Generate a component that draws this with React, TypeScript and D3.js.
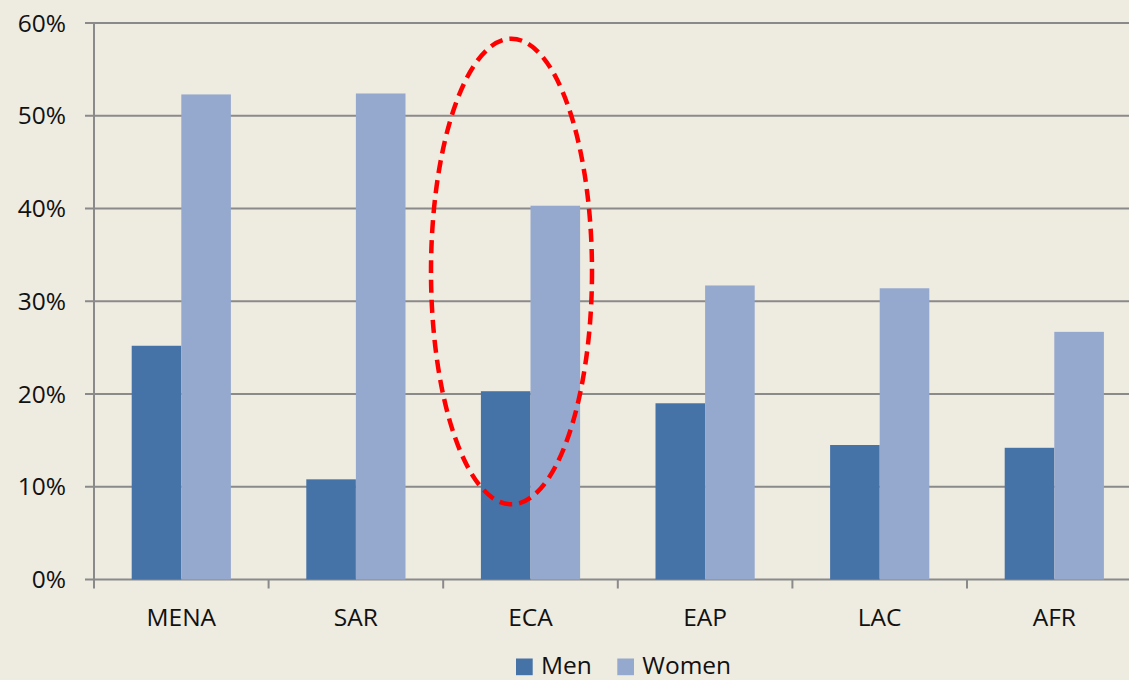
import React from "react";
import * as d3 from "d3";

const categories = ["MENA", "SAR", "ECA", "EAP", "LAC", "AFR"];
const menValues = [25.2, 10.8, 20.3, 19.0, 14.5, 14.2];
const womenValues = [52.3, 52.4, 40.3, 31.7, 31.4, 26.7];
const yTicks = [0, 10, 20, 30, 40, 50, 60];
const seriesNames = ["Men", "Women"];
const highlight = { category: "ECA", low: 8.1, high: 58.3 };

const W = 1129;
const H = 680;
const left = 94;
const catW = 174.6;
const top = 23;
const bottom = 579.5;
const font = "'Open Sans', 'Noto Sans', sans-serif";
const colors = ["#4673A7", "#95A9CF"];
const grid = "#8a8a8a";
const bg = "#EEEBE0";

export default function App() {
  const x = d3
    .scaleBand<string>()
    .domain(categories)
    .range([left, left + catW * categories.length])
    .paddingInner(0)
    .paddingOuter(0);
  const gap = 37.7;
  const bw = (catW - 2 * gap) / 2;
  const y = d3.scaleLinear().domain([0, 60]).range([bottom, top]);
  const series = [menValues, womenValues];

  const cx = (x(highlight.category) ?? 0) + catW / 2 - 19;
  const cyTop = y(highlight.high);
  const cyBot = y(highlight.low);

  return (
    <div style={{ position: "fixed", left: 0, top: 0, width: W, height: H, background: bg }}>
      <svg width={W} height={H} style={{ display: "block" }}>
        <rect x={0} y={0} width={W} height={H} fill={bg} />
        {yTicks.map((t) => (
          <g key={t}>
            <line x1={85} x2={left + catW * 6} y1={y(t)} y2={y(t)} stroke={grid} strokeWidth={2} />
            <text
              x={66}
              y={y(t) + 8.5}
              textAnchor="end"
              fontFamily={font}
              fontSize={24.5}
              fill="#111"
            >
              {t}%
            </text>
          </g>
        ))}
        <line x1={left} x2={left} y1={top} y2={bottom + 1} stroke={grid} strokeWidth={2} />
        {categories.map((c) => (
          <line
            key={"tk" + c}
            x1={x(c)!}
            x2={x(c)!}
            y1={bottom}
            y2={bottom + 9}
            stroke={grid}
            strokeWidth={2}
          />
        ))}
        {categories.map((c, i) => (
          <g key={c}>
            {series.map((vals, s) => (
              <rect
                key={s}
                x={x(c)! + gap + s * bw}
                y={y(vals[i])}
                width={bw}
                height={bottom - y(vals[i])}
                fill={colors[s]}
              />
            ))}
            <text
              x={x(c)! + catW / 2}
              y={626}
              textAnchor="middle"
              fontFamily={font}
              fontSize={24.5}
              fill="#111"
            >
              {c}
            </text>
          </g>
        ))}
        <ellipse
          cx={cx}
          cy={(cyTop + cyBot) / 2}
          rx={80.5}
          ry={(cyBot - cyTop) / 2}
          fill="none"
          stroke="#FF0000"
          strokeWidth={4.5}
          strokeDasharray="13 7"
        />
        {seriesNames.map((n, s) => {
          const lx = s === 0 ? 516 : 617.3;
          return (
            <g key={n}>
              <rect x={lx} y={658.5} width={16.7} height={16.7} fill={colors[s]} />
              <text x={lx + 25} y={673.5} fontFamily={font} fontSize={24.5} fill="#111">
                {n}
              </text>
            </g>
          );
        })}
      </svg>
    </div>
  );
}
